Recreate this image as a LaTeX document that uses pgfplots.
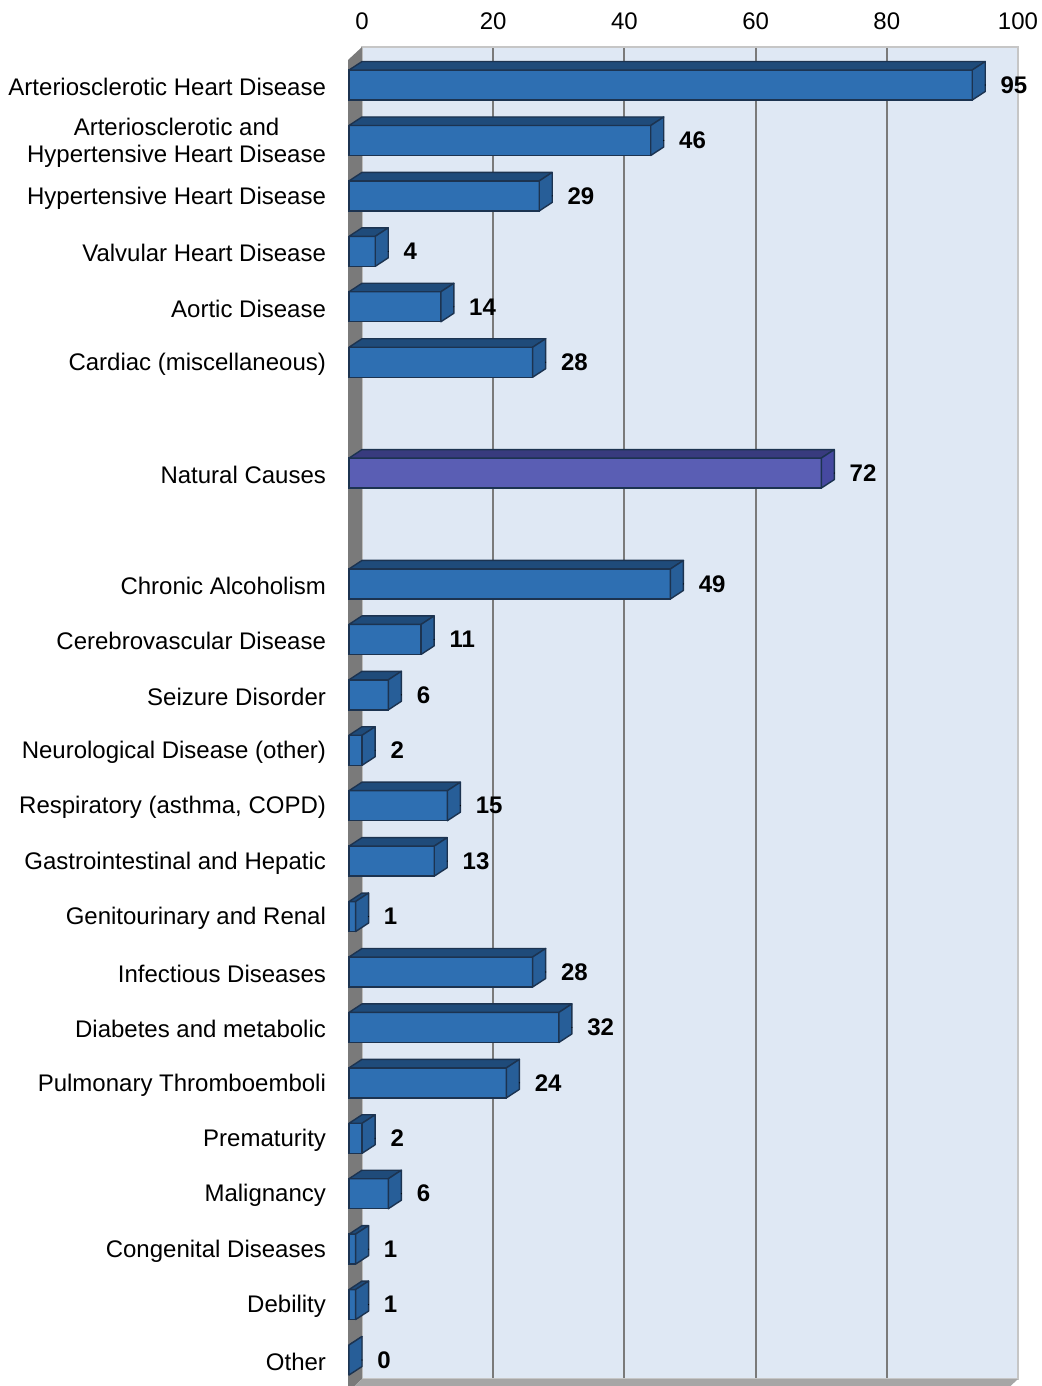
\documentclass[border=0pt]{standalone}
\usepackage{pgfplots}
\usepackage{pgfplotstable}
\pgfplotsset{compat=1.18}
\usepackage{fontspec}
\setmainfont{Liberation Sans}

\definecolor{wallbg}{HTML}{DFE8F4}
\definecolor{gridc}{HTML}{7A7A7A}
\definecolor{sidewall}{HTML}{7A7A7A}
\definecolor{floorc}{HTML}{A6A6A6}
\definecolor{edgec}{HTML}{1C3350}
\definecolor{frontc}{HTML}{2E6FB2}
\definecolor{topc}{HTML}{1F4B7A}
\definecolor{sidec}{HTML}{275E98}
\definecolor{nfrontc}{HTML}{5A5EB4}
\definecolor{ntopc}{HTML}{383B7E}
\definecolor{nsidec}{HTML}{4649A0}

% y = slot (1 = top), v = value
\pgfplotstableread{
y v
1 95
2 46
3 29
4 4
5 14
6 28
10 49
11 11
12 6
13 2
14 15
15 13
16 1
17 28
18 32
19 24
20 2
21 6
22 1
23 1
24 0
}\maindata
\pgfplotstableread{
y v
8 72
}\natdata

\pgfplotsset{
  faces/.style n args={2}{
    scatter, only marks, mark=*, mark size=0.01pt,
    point meta=x,
    visualization depends on={rawx \as \barval},
    scatter/@pre marker code/.code={%
      \pgfkeys{/pgf/fpu=false}%
      \pgfmathsetlengthmacro\barlen{\barval*3.28pt}%
      \fill[#1, draw=edgec, line width=0.7pt, line join=round]
        (-6.5pt-\barlen,7.5pt) -- (-6.5pt,7.5pt) -- (0pt,11.75pt) -- (-\barlen,11.75pt) -- cycle;
      \fill[#2, draw=edgec, line width=0.7pt, line join=round]
        (-6.5pt,-7.5pt) -- (-6.5pt,7.5pt) -- (0pt,11.75pt) -- (0pt,-3.25pt) -- cycle;
    },
    scatter/@post marker code/.code={},
  },
  vlabels/.style={
    only marks, mark=none,
    nodes near coords,
    point meta=explicit symbolic,
    nodes near coords style={anchor=west, inner sep=0pt, xshift=7.5pt,
      font=\fontsize{12}{13.5}\selectfont\bfseries, text=black},
  },
}

\begin{document}
\begin{tikzpicture}
\path[use as bounding box] (0,0) rectangle (521pt,-693pt);
\begin{axis}[
  at={(181pt,-23.5pt)}, anchor=north west,
  scale only axis, width=328pt, height=666pt,
  xmin=0, xmax=100,
  y dir=reverse,
  ymin=0.314, ymax=24.343,
  clip=false,
  axis background/.style={fill=wallbg},
  axis line style={draw=gray!45, line width=0.6pt},
  xtick={0,20,...,100},
  xticklabel pos=upper,
  xmajorgrids,
  major grid style={draw=gridc, line width=1pt},
  major tick length=0pt,
  /pgf/number format/assume math mode=true,
  xticklabel style={font=\fontsize{12}{13.5}\selectfont, yshift=5pt},
  ytick={1,2,3,4,5,6,8,10,11,12,13,14,15,16,17,18,19,20,21,22,23,24},
  yticklabels={
    Arteriosclerotic Heart Disease,
    {Arteriosclerotic and\\Hypertensive Heart Disease},
    Hypertensive Heart Disease,
    Valvular Heart Disease,
    Aortic Disease,
    Cardiac (miscellaneous),
    Natural Causes,
    Chronic Alcoholism,
    Cerebrovascular Disease,
    Seizure Disorder,
    Neurological Disease (other),
    {Respiratory (asthma, COPD)},
    Gastrointestinal and Hepatic,
    Genitourinary and Renal,
    Infectious Diseases,
    Diabetes and metabolic,
    Pulmonary Thromboemboli,
    Prematurity,
    Malignancy,
    Congenital Diseases,
    Debility,
    Other},
  yticklabel style={font=\fontsize{12}{13.5}\selectfont, align=center, xshift=-14.5pt, yshift=-1pt},
]
% left wall and floor
\fill[sidewall] (rel axis cs:0,1) -- ([shift={(-7pt,-6.5pt)}]rel axis cs:0,1)
  -- ([shift={(-7pt,-6.5pt)}]rel axis cs:0,0) -- (rel axis cs:0,0) -- cycle;
\fill[floorc] (rel axis cs:0,0) -- (rel axis cs:1,0)
  -- ([shift={(-7pt,-6.5pt)}]rel axis cs:1,0) -- ([shift={(-7pt,-6.5pt)}]rel axis cs:0,0) -- cycle;

% top and side faces
\addplot[faces={topc}{sidec}] table[x=v, y=y] {\maindata};
\addplot[faces={ntopc}{nsidec}] table[x=v, y=y] {\natdata};
% front faces
\addplot[xbar, bar width=15pt, bar shift=0pt, xshift=-6.5pt,
  fill=frontc, draw=edgec, line width=0.7pt] table[x=v, y=y] {\maindata};
\addplot[xbar, bar width=15pt, bar shift=0pt, xshift=-6.5pt,
  fill=nfrontc, draw=edgec, line width=0.7pt] table[x=v, y=y] {\natdata};
% value labels
\addplot[vlabels] table[x=v, y=y, meta=v] {\maindata};
\addplot[vlabels] table[x=v, y=y, meta=v] {\natdata};
\end{axis}
\end{tikzpicture}
\end{document}
